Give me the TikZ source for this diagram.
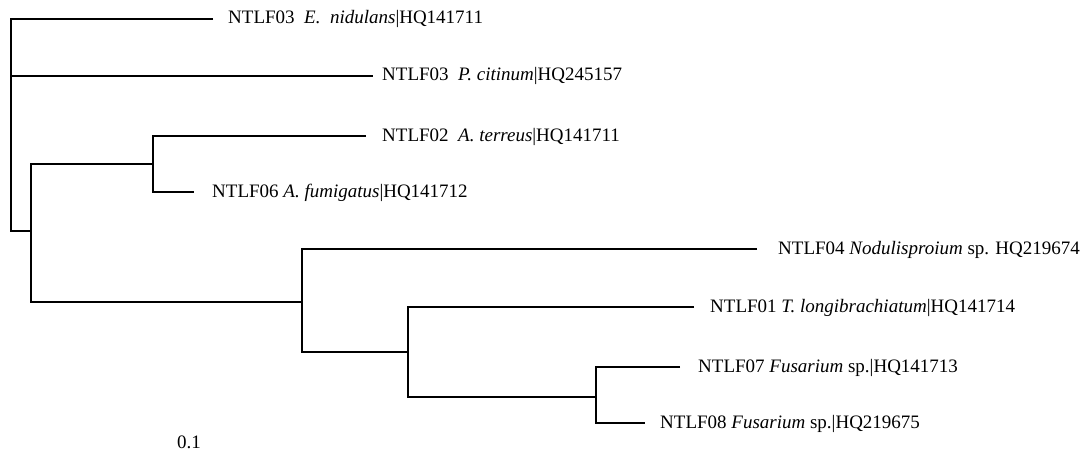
\documentclass[tikz,border=0pt]{standalone}
\usepackage{fontspec}
\setmainfont{Liberation Serif}
\begin{document}
\begin{tikzpicture}[x=1pt,y=-1pt,
  br/.style={line width=1.7pt, line join=miter},
  lab/.style={anchor=base west, inner sep=0pt, font=\fontsize{19}{22}\selectfont}]
\useasboundingbox (0,0) rectangle (1084,452);
% internal nodes
\coordinate (n0) at (11,125);
\coordinate (n1) at (31,231);
\coordinate (n2) at (153,164);
\coordinate (n3) at (302,302);
\coordinate (n4) at (408,352);
\coordinate (n5) at (596,397);
% leaf ends
\coordinate (lE) at (213,19);
\coordinate (lP) at (373,76);
\coordinate (lT) at (366,136);
\coordinate (lF) at (194,192);
\coordinate (l4) at (757,249);
\coordinate (l1) at (694,307);
\coordinate (l7) at (680,367);
\coordinate (l8) at (645,423);
% labels
\node[lab] (tE) at (228,24) {NTLF03\ \ \textit{E.}\ \ \textit{nidulans}|HQ141711};
\node[lab] (tP) at (382,81) {NTLF03\ \ \textit{P. citinum}|HQ245157};
\node[lab] (tT) at (382,141) {NTLF02\ \ \textit{A. terreus}|HQ141711};
\node[lab] (tF) at (212,197) {NTLF06 \textit{A. fumigatus}|HQ141712};
\node[lab] (t4) at (778,254) {NTLF04 \textit{Nodulisproium} sp. HQ219674};
\node[lab] (t1) at (710,312) {NTLF01 \textit{T. longibrachiatum}|HQ141714};
\node[lab] (t7) at (698,372) {NTLF07 \textit{Fusarium} sp.|HQ141713};
\node[lab] (t8) at (660,428) {NTLF08 \textit{Fusarium} sp.|HQ219675};
\node[lab] (sc) at (177,448) {0.1};
% branches
\draw[br] (lE) -| (n0) |- (n1);
\draw[br] (n0) |- (lP);
\draw[br] (n2) -| (n1) |- (n3);
\draw[br] (lT) -| (n2) |- (lF);
\draw[br] (l4) -| (n3) |- (n4);
\draw[br] (l1) -| (n4) |- (n5);
\draw[br] (l7) -| (n5) |- (l8);
\end{tikzpicture}
\end{document}
